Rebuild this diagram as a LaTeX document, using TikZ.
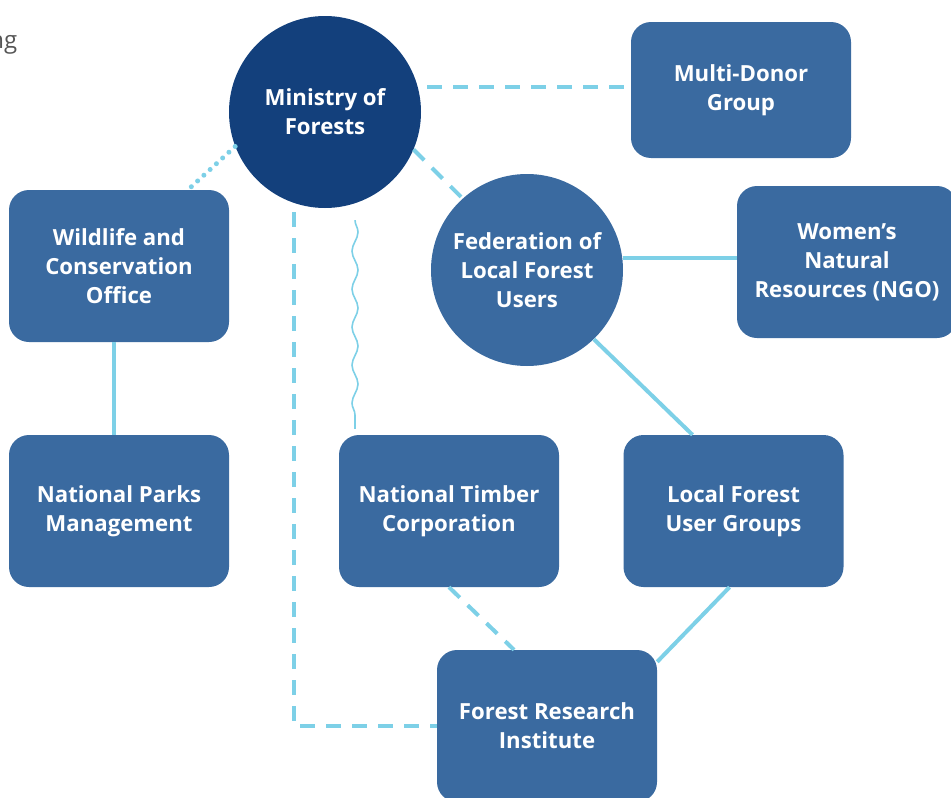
\documentclass[tikz,border=0pt]{standalone}
\usepackage{fontspec}
\setmainfont{Open Sans}
\usepackage{xcolor}
\usetikzlibrary{decorations.pathmorphing}
\definecolor{navyblue}{HTML}{13407C}
\definecolor{boxblue}{HTML}{3A6AA0}
\definecolor{linkblue}{HTML}{7DD0E7}
\definecolor{graytext}{HTML}{555555}

\begin{document}
\begin{tikzpicture}[
        orgbox/.style = {fill = boxblue, rectangle, rounded corners = 20pt, minimum width = 220pt, minimum height = 152pt, text = white, align = center, font = \bfseries\fontsize{22.2}{29}\selectfont},
        orgcircle/.style = {circle, minimum size = 192pt, inner sep = 0pt, text = white, align = center, font = \bfseries\fontsize{22.2}{29}\selectfont},
        link/.style = {draw = linkblue, line width = 4pt},
        dashlink/.style = {link, dash pattern = on 15pt off 11pt},
        dotlink/.style = {draw = linkblue, line width = 5pt, line cap = round, dash pattern = on 0pt off 8.5pt},
        wavelink/.style = {draw = linkblue, line width = 1.6pt, decorate, decoration = {snake, segment length = 38pt, amplitude = 3pt}}
    ]

        \useasboundingbox (0pt, 0pt) rectangle (951pt, -798pt);

        \node [anchor = base east, inner sep = 0pt, text = graytext, font = \fontsize{24}{28}\selectfont] (ng) at (17.5pt, -48pt) {ng};

        \node [orgcircle, fill = navyblue] (ministry) at (325pt, -112pt) {Ministry of\\Forests};
        \node [orgbox, minimum height = 136pt] (donor) at (741pt, -90pt) {Multi-Donor\\Group};
        \node [orgbox] (wildlife) at (119pt, -266pt) {Wildlife and\\Conservation\\Office};
        \node [orgcircle, fill = boxblue] (fed) at (527pt, -270pt) {Federation of\\Local Forest\\Users};
        \node [orgbox] (women) at (847pt, -262pt) {Women’s\\Natural\\Resources (NGO)};
        \node [orgbox] (parks) at (119pt, -511pt) {National Parks\\Management};
        \node [orgbox] (timber) at (449pt, -511pt) {National Timber\\Corporation};
        \node [orgbox] (localgroups) at (733.5pt, -511pt) {Local Forest\\User Groups};
        \node [orgbox] (research) at (547pt, -726pt) {Forest Research\\Institute};

        % Ministry links
        \draw [dashlink] ([xshift = 6pt, yshift = 3pt]donor.west -| ministry.east) -- ([yshift = 3pt]donor.west);
        \draw [dotlink] (ministry.201) -- ([xshift = 69pt]wildlife.north);
        \draw [dashlink] (ministry.-23) -- (fed.132);
        \draw [dashlink] ([xshift = -31pt, yshift = -4pt]ministry.south) |- (research.west);
        \draw [wavelink] ([xshift = 30pt, yshift = -12pt]ministry.south) -- ([xshift = -94pt, yshift = 6pt]timber.north);

        % Federation links
        \draw [link] ([yshift = 4pt]women.west) -- ([yshift = 4pt]women.west -| fed.east);
        \draw [link] (fed.-46) -- ([xshift = -41pt]localgroups.north);

        % Lower links
        \draw [link] ([xshift = -5pt]wildlife.south) -- ([xshift = -5pt]parks.north);
        \draw [dashlink] (timber.south) -- ([xshift = -33pt]research.north);
        \draw [link] ([xshift = -4pt]localgroups.south) -- ([yshift = -12pt]research.north east);

    \end{tikzpicture}
\end{document}
